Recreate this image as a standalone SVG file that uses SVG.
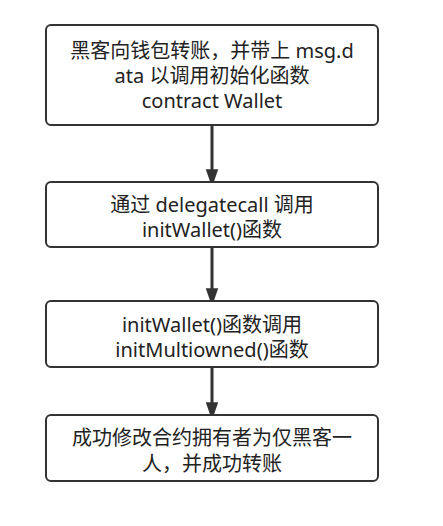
<svg xmlns="http://www.w3.org/2000/svg" width="443" height="526" viewBox="0 0 443 526">
<defs>
<style>
.box{fill:#fff;stroke:#333;stroke-width:2}
.t{font-family:"Noto Sans","Noto Sans CJK SC",sans-serif;font-size:20px;fill:#222;text-anchor:middle}
.c{stroke:#333;stroke-width:3;fill:none}
</style>
<marker id="ah" markerUnits="userSpaceOnUse" markerWidth="18" markerHeight="26" refX="17" refY="9" orient="auto" viewBox="0 0 26 18">
<path d="M0,0 L26,9 L0,18 Z" fill="#333"/>
</marker>
</defs>
<rect width="443" height="526" fill="#fff"/>
<g id="connectors">
<line class="c" x1="212" y1="125" x2="212" y2="181" marker-end="url(#ah)"/>
<line class="c" x1="212" y1="247" x2="212" y2="300" marker-end="url(#ah)"/>
<line class="c" x1="212" y1="367" x2="212" y2="414" marker-end="url(#ah)"/>
</g>
<g id="n1">
<rect class="box" x="46" y="25" width="332" height="100" rx="5"/>
<text class="t" x="212" y="58">黑客向钱包转账，并带上 msg.d</text>
<text class="t" x="212" y="83">ata 以调用初始化函数</text>
<text class="t" x="212" y="108">contract Wallet</text>
</g>
<g id="n2">
<rect class="box" x="46" y="182" width="332" height="65" rx="5"/>
<text class="t" x="212" y="212">通过 delegatecall 调用</text>
<text class="t" x="212" y="237">initWallet()函数</text>
</g>
<g id="n3">
<rect class="box" x="46" y="301" width="332" height="66" rx="5"/>
<text class="t" x="212" y="332">initWallet()函数调用</text>
<text class="t" x="212" y="357">initMultiowned()函数</text>
</g>
<g id="n4">
<rect class="box" x="46" y="415" width="332" height="66" rx="5"/>
<text class="t" x="212" y="445">成功修改合约拥有者为仅黑客一</text>
<text class="t" x="212" y="471">人，并成功转账</text>
</g>
</svg>
